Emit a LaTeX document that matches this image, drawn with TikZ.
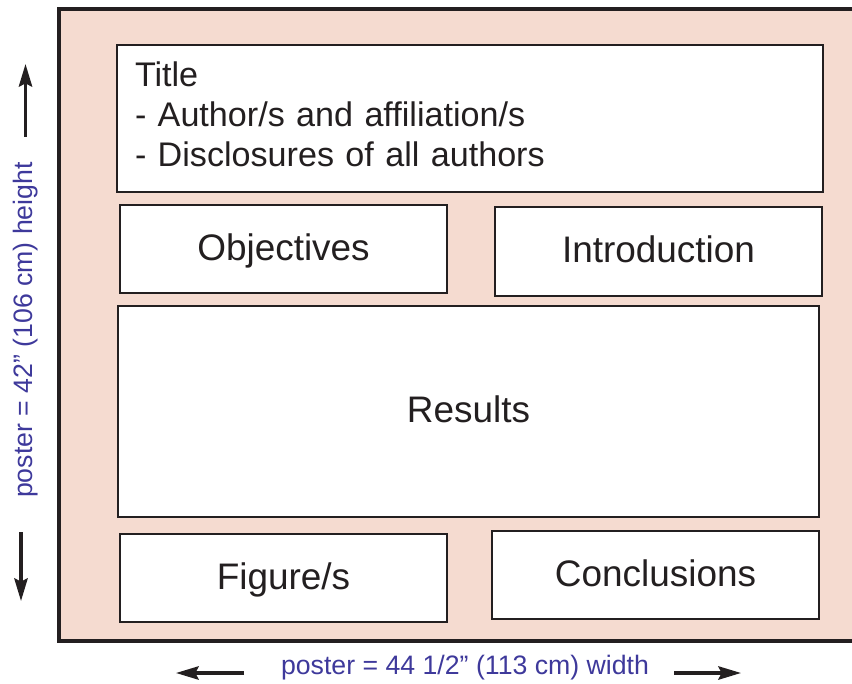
\documentclass[tikz,border=0pt]{standalone}
\usepackage{fontspec}
\setmainfont{Liberation Sans}
\usetikzlibrary{arrows.meta}
\definecolor{posterpink}{RGB}{245,219,208}
\definecolor{boxline}{RGB}{35,31,32}
\definecolor{dimblue}{RGB}{62,57,155}
\tikzset{
  panel/.style={draw=boxline, line width=1.5pt, fill=white, inner sep=0pt,
    font=\fontsize{27.7}{30}\selectfont, text=boxline,
    text height=20pt, text depth=3pt},
  dimtext/.style={text=dimblue, font=\fontsize{20}{24}\selectfont, inner sep=0pt},
  dimarrow/.style={line width=2.5pt, boxline, -{Stealth[length=17pt,width=10pt,inset=2.5pt]}}
}

\begin{document}
\begin{tikzpicture}[x=0.75pt, y=-0.75pt]
  \useasboundingbox (0,0) rectangle (852,684);
  % poster sheet
  \fill[posterpink] (59,9) rectangle (852,641);
  \draw[line width=3pt, boxline] (852,9) -- (59,9) -- (59,641) -- (852,641);

  % panels
  \node[panel, minimum width=706*0.75pt, minimum height=147*0.75pt, text width=670*0.75pt,
        align=left, font=\fontsize{25.6}{30}\selectfont, text height=, text depth=]
        (title) at (470,118.5) {Title\\- Author/s and affiliation/s\\- Disclosures of all authors\par\vspace{6pt}};
  \node[panel, minimum width=327*0.75pt, minimum height=88*0.75pt] (obj) at (283.5,249) {Objectives};
  \node[panel, minimum width=327*0.75pt, minimum height=89*0.75pt] (intro) at (658.5,251.5) {Introduction};
  \node[panel, minimum width=701*0.75pt, minimum height=211*0.75pt] (res) at (468.5,411.5) {Results};
  \node[panel, minimum width=327*0.75pt, minimum height=88*0.75pt] (fig) at (283.5,578) {Figure/s};
  \node[panel, minimum width=327*0.75pt, minimum height=88*0.75pt] (concl) at (655.5,575) {Conclusions};

  % dimensions
  \node[dimtext, rotate=90] (height) at (26,330) {poster = 42” (106 cm) height};
  \node[dimtext] (width) at (465,668) {poster = 44 1/2” (113 cm) width};
  \coordinate (upfrom) at (25.5,137);
  \coordinate (upto) at (25.5,64);
  \coordinate (downfrom) at (21,532);
  \coordinate (downto) at (21,601);
  \coordinate (leftfrom) at (244,673);
  \coordinate (leftto) at (176,673);
  \coordinate (rightfrom) at (674,673);
  \coordinate (rightto) at (741,673);
  \draw[dimarrow] (upfrom) -- (upto);
  \draw[dimarrow] (downfrom) -- (downto);
  \draw[dimarrow] (leftfrom) -- (leftto);
  \draw[dimarrow] (rightfrom) -- (rightto);
\end{tikzpicture}
\end{document}
